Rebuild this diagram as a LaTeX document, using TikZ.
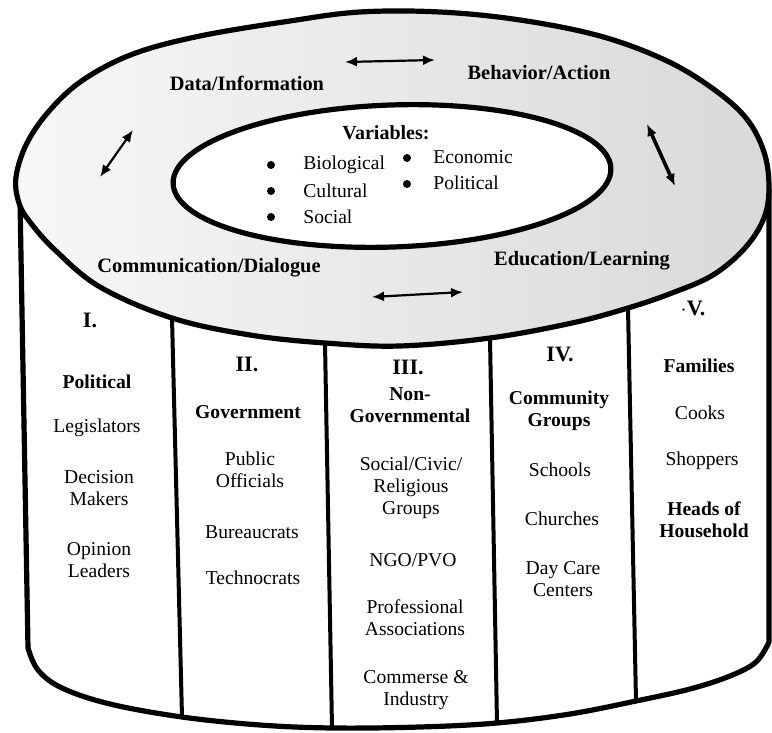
\documentclass[tikz,border=0pt]{standalone}
\usepackage{fontspec}
\setmainfont{Liberation Serif}
\usetikzlibrary{arrows.meta}
\begin{document}
\begin{tikzpicture}[x=0.5pt,y=-0.5pt,
  outline/.style={line width=2.6pt, line join=round, line cap=round},
  divider/.style={line width=2pt},
  dbl/.style={{Latex[length=6pt,width=5pt]}-{Latex[length=6pt,width=5pt]}, line width=1.1pt},
  ringlabel/.style={font=\fontsize{10.2}{12}\selectfont\bfseries, inner sep=0pt},
  item/.style={font=\fontsize{9.8}{11}\selectfont, inner sep=0pt, align=center},
  head/.style={font=\fontsize{9.8}{11}\selectfont\bfseries, inner sep=0pt, align=center},
  numeral/.style={font=\fontsize{11}{13}\selectfont\bfseries, inner sep=0pt},
  var/.style={font=\fontsize{9.8}{11}\selectfont, inner sep=0pt, anchor=west},
  bul/.style={circle, fill=black, inner sep=0pt, minimum size=4pt},
]
\useasboundingbox (0,0) rectangle (772,733);

% cylinder body
\draw[outline] (20,200) -- plot[smooth, tension=0.6] coordinates {(28,648) (38,670) (62,688) (110,704) (182,717) (260,725) (333,728) (420,727) (497,723) (570,714) (636,701) (690,689) (730,676) (756,662) (769,642)} -- (769,190);

% column dividers
\coordinate (d1t) at (172,318); \coordinate (d1b) at (182,717);
\coordinate (d2t) at (325,343); \coordinate (d2b) at (332,728);
\coordinate (d3t) at (490,338); \coordinate (d3b) at (497,723);
\coordinate (d4t) at (628,308); \coordinate (d4b) at (636,701);
\draw[divider] (d1t) -- (d1b);
\draw[divider] (d2t) -- (d2b);
\draw[divider] (d3t) -- (d3b);
\draw[divider] (d4t) -- (d4b);

% top ring
\shadedraw[outline, left color=gray!6, right color=gray!30] plot[smooth cycle, tension=0.6] coordinates {
 (769,187) (764,152) (746,118) (712,88) (665,60) (600,36) (520,20) (440,12) (360,12) (290,21) (200,36) (133,54) (83,80) (50,110) (27,143) (16,177)
 (19,203) (30,222) (55,250) (100,287) (172,318) (250,335) (325,343) (400,346) (490,338) (572,323) (628,308) (672,293) (713,275) (745,248) (764,218)};

% inner ellipse
\draw[outline, fill=white, rotate around={2:(392,176)}] (392,176) ellipse [x radius=219, y radius=71];

% ring labels
\node[ringlabel] (data) at (247,83) {Data/Information};
\node[ringlabel] (beh) at (539,73) {Behavior/Action};
\node[ringlabel] (comm) at (209,268) {Communication/Dialogue};
\node[ringlabel] (edu) at (582,261) {Education/Learning};

% arrows
\coordinate (a1) at (345,62); \coordinate (a2) at (435,60);
\coordinate (b1) at (100,177); \coordinate (b2) at (133,130);
\coordinate (c1) at (647,124); \coordinate (c2) at (675,186);
\coordinate (e1) at (372,297); \coordinate (e2) at (463,292);
\draw[dbl] (a1) -- (a2);
\draw[dbl] (b1) -- (b2);
\draw[dbl, line width=1.8pt] (c1) -- (c2);
\draw[dbl] (e1) -- (e2);

% variables
\node[head, font=\fontsize{10}{12}\selectfont\bfseries] (vars) at (386,133) {Variables:};
\node[bul] (bu1) at (271,165) {}; \node[var] (bio) at (303,165) {Biological};
\node[bul] (bu2) at (271,191) {}; \node[var] (cul) at (303,191) {Cultural};
\node[bul] (bu3) at (271,217) {}; \node[var] (soc) at (303,217) {Social};
\node[bul] (bu4) at (407,158) {}; \node[var] (eco) at (433,157) {Economic};
\node[bul] (bu5) at (407,184) {}; \node[var] (pol) at (433,183) {Political};

% column I
\node[numeral] (n1) at (90,320) {I.};
\node[head] (h1) at (97,382) {Political};
\node[item] (i11) at (97,428) {Legislators};
\node[item] (i12) at (99,488) {Decision\\Makers};
\node[item] (i13) at (99,560) {Opinion\\Leaders};

% column II
\node[numeral] (n2) at (247,364) {II.};
\node[head] (h2) at (248,412) {Government};
\node[item] (i21) at (250,470) {Public\\Officials};
\node[item] (i22) at (252,532) {Bureaucrats};
\node[item] (i23) at (253,578) {Technocrats};

% column III
\node[numeral] (n3) at (408,367) {III.};
\node[head] (h3) at (410,405) {Non-\\Governmental};
\node[item] (i31) at (411,488) {Social/Civic/\\Religious\\Groups};
\node[item] (i32) at (413,560) {NGO/PVO};
\node[item] (i33) at (415,618) {Professional\\Associations};
\node[item] (i34) at (416,690) {Commerse \&\\Industry};

% column IV
\node[numeral] (n4) at (560,354) {IV.};
\node[head] (h4) at (559,411) {Community\\Groups};
\node[item] (i41) at (560,470) {Schools};
\node[item] (i42) at (562,519) {Churches};
\node[item] (i43) at (563,579) {Day Care\\Centers};

% column V
\node[numeral] (n5) at (693,308) {$\cdot$V.};
\node[head] (h5) at (699,366) {Families};
\node[item] (i51) at (700,413) {Cooks};
\node[item] (i52) at (702,461) {Shoppers};
\node[head] (i53) at (704,520) {Heads of\\Household};
\end{tikzpicture}
\end{document}
